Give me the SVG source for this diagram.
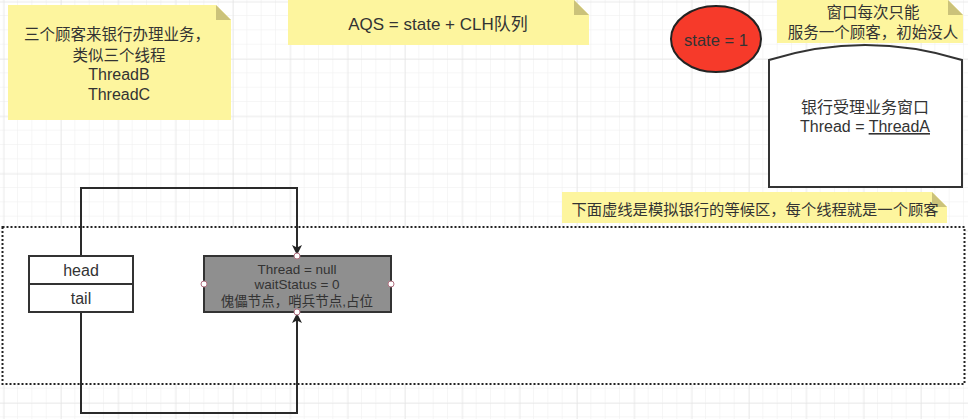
<svg xmlns="http://www.w3.org/2000/svg" width="968" height="419" viewBox="0 0 968 419">
<defs>
<pattern id="minor" x="3.67" y="1.67" width="14.333" height="14.333" patternUnits="userSpaceOnUse">
<path d="M14.333 0V14.333M0 14.333H14.333" fill="none" stroke="#eeeeee" stroke-width="1"/>
</pattern>
<pattern id="major" x="3.67" y="1.67" width="57.333" height="57.333" patternUnits="userSpaceOnUse">
<path d="M0 0V57.333M0 0H57.333" fill="none" stroke="#e2e2e2" stroke-width="1"/>
</pattern>
<marker id="arr" viewBox="0 0 10 10" refX="9" refY="5" markerWidth="5" markerHeight="5" orient="auto" markerUnits="strokeWidth">
<path d="M0 0L10 5L0 10L2.5 5Z" fill="#222"/>
</marker>
<style>
text{font-family:"Liberation Sans","Noto Sans CJK SC",sans-serif;fill:#333;text-anchor:middle}
.note{fill:#fdf59e}
.fold{fill:#cbc27a}
.t15{font-size:15.5px}
.t16{font-size:16px}
.t13{font-size:13.5px}
.box{fill:#fff;stroke:#333;stroke-width:2}
.pt{fill:#fff;stroke:#b07080;stroke-width:1}
.conn{fill:none;stroke:#2a2a2a;stroke-width:2}
</style>
</defs>
<rect width="968" height="419" fill="#fff"/>
<rect width="968" height="419" fill="url(#minor)"/>
<rect width="968" height="419" fill="url(#major)"/>

<g id="waiting-area">
<rect x="2.5" y="227" width="962" height="157" fill="#fff" stroke="#222" stroke-width="2" stroke-dasharray="2 2"/>
</g>

<g id="note-customers">
<path class="note" d="M8 5H216L231 20V120H8Z"/>
<path class="fold" d="M216 5L231 20H216Z"/>
<text class="t15" x="117" y="40">三个顾客来银行办理业务，</text>
<text class="t15" x="119" y="61">类似三个线程</text>
<text class="t16" x="119" y="80">ThreadB</text>
<text class="t16" x="119" y="100">ThreadC</text>
</g>

<g id="note-aqs">
<path class="note" d="M288 0H574L589 15V45H288Z"/>
<path class="fold" d="M574 0L589 15H574Z"/>
<text x="438" y="30" font-size="17">AQS = state + CLH队列</text>
</g>

<g id="state">
<ellipse cx="716" cy="39" rx="45" ry="33" fill="#f63a2a" stroke="#222" stroke-width="2"/>
<text x="716" y="46" font-size="16.5">state = 1</text>
</g>

<g id="note-window">
<path class="note" d="M777 0H948L963 15V43H777Z"/>
<path class="fold" d="M948 0L963 15H948Z"/>
<text class="t15" x="873" y="18">窗口每次只能</text>
<text class="t15" x="873" y="38">服务一个顾客，初始没人</text>
</g>

<g id="window">
<path class="box" d="M769 60Q865 30 962 60V187H769Z"/>
<text class="t16" x="865" y="113">银行受理业务窗口</text>
<text class="t16" x="865" y="132">Thread = <tspan text-decoration="underline">ThreadA</tspan></text>
</g>

<g id="note-queue">
<path class="note" d="M562 192H932L947 207V223H562Z"/>
<path class="fold" d="M932 192L947 207H932Z"/>
<text x="755" y="215" font-size="15.3">下面虚线是模拟银行的等候区，每个线程就是一个顾客</text>
</g>

<g id="connectors">
<path class="conn" d="M81 256V188H297V254" marker-end="url(#arr)"/>
<path class="conn" d="M81 312V413H297V314" marker-end="url(#arr)"/>
</g>

<g id="head-tail">
<rect class="box" x="29" y="256" width="104" height="56"/>
<line x1="29" y1="284" x2="133" y2="284" stroke="#333" stroke-width="2"/>
<text class="t16" x="81" y="276">head</text>
<text class="t16" x="81" y="304">tail</text>
</g>

<g id="sentinel">
<rect x="204" y="256" width="187" height="56" fill="#8f8f8f" stroke="#333" stroke-width="2"/>
<text class="t13" x="297" y="274">Thread = null</text>
<text class="t13" x="297" y="289">waitStatus = 0</text>
<text class="t13" x="297" y="306">傀儡节点，哨兵节点,占位</text>
<circle class="pt" cx="297" cy="256" r="3"/>
<circle class="pt" cx="297" cy="312" r="3"/>
<circle class="pt" cx="204" cy="284" r="3"/>
<circle class="pt" cx="391" cy="284" r="3"/>
</g>
</svg>
